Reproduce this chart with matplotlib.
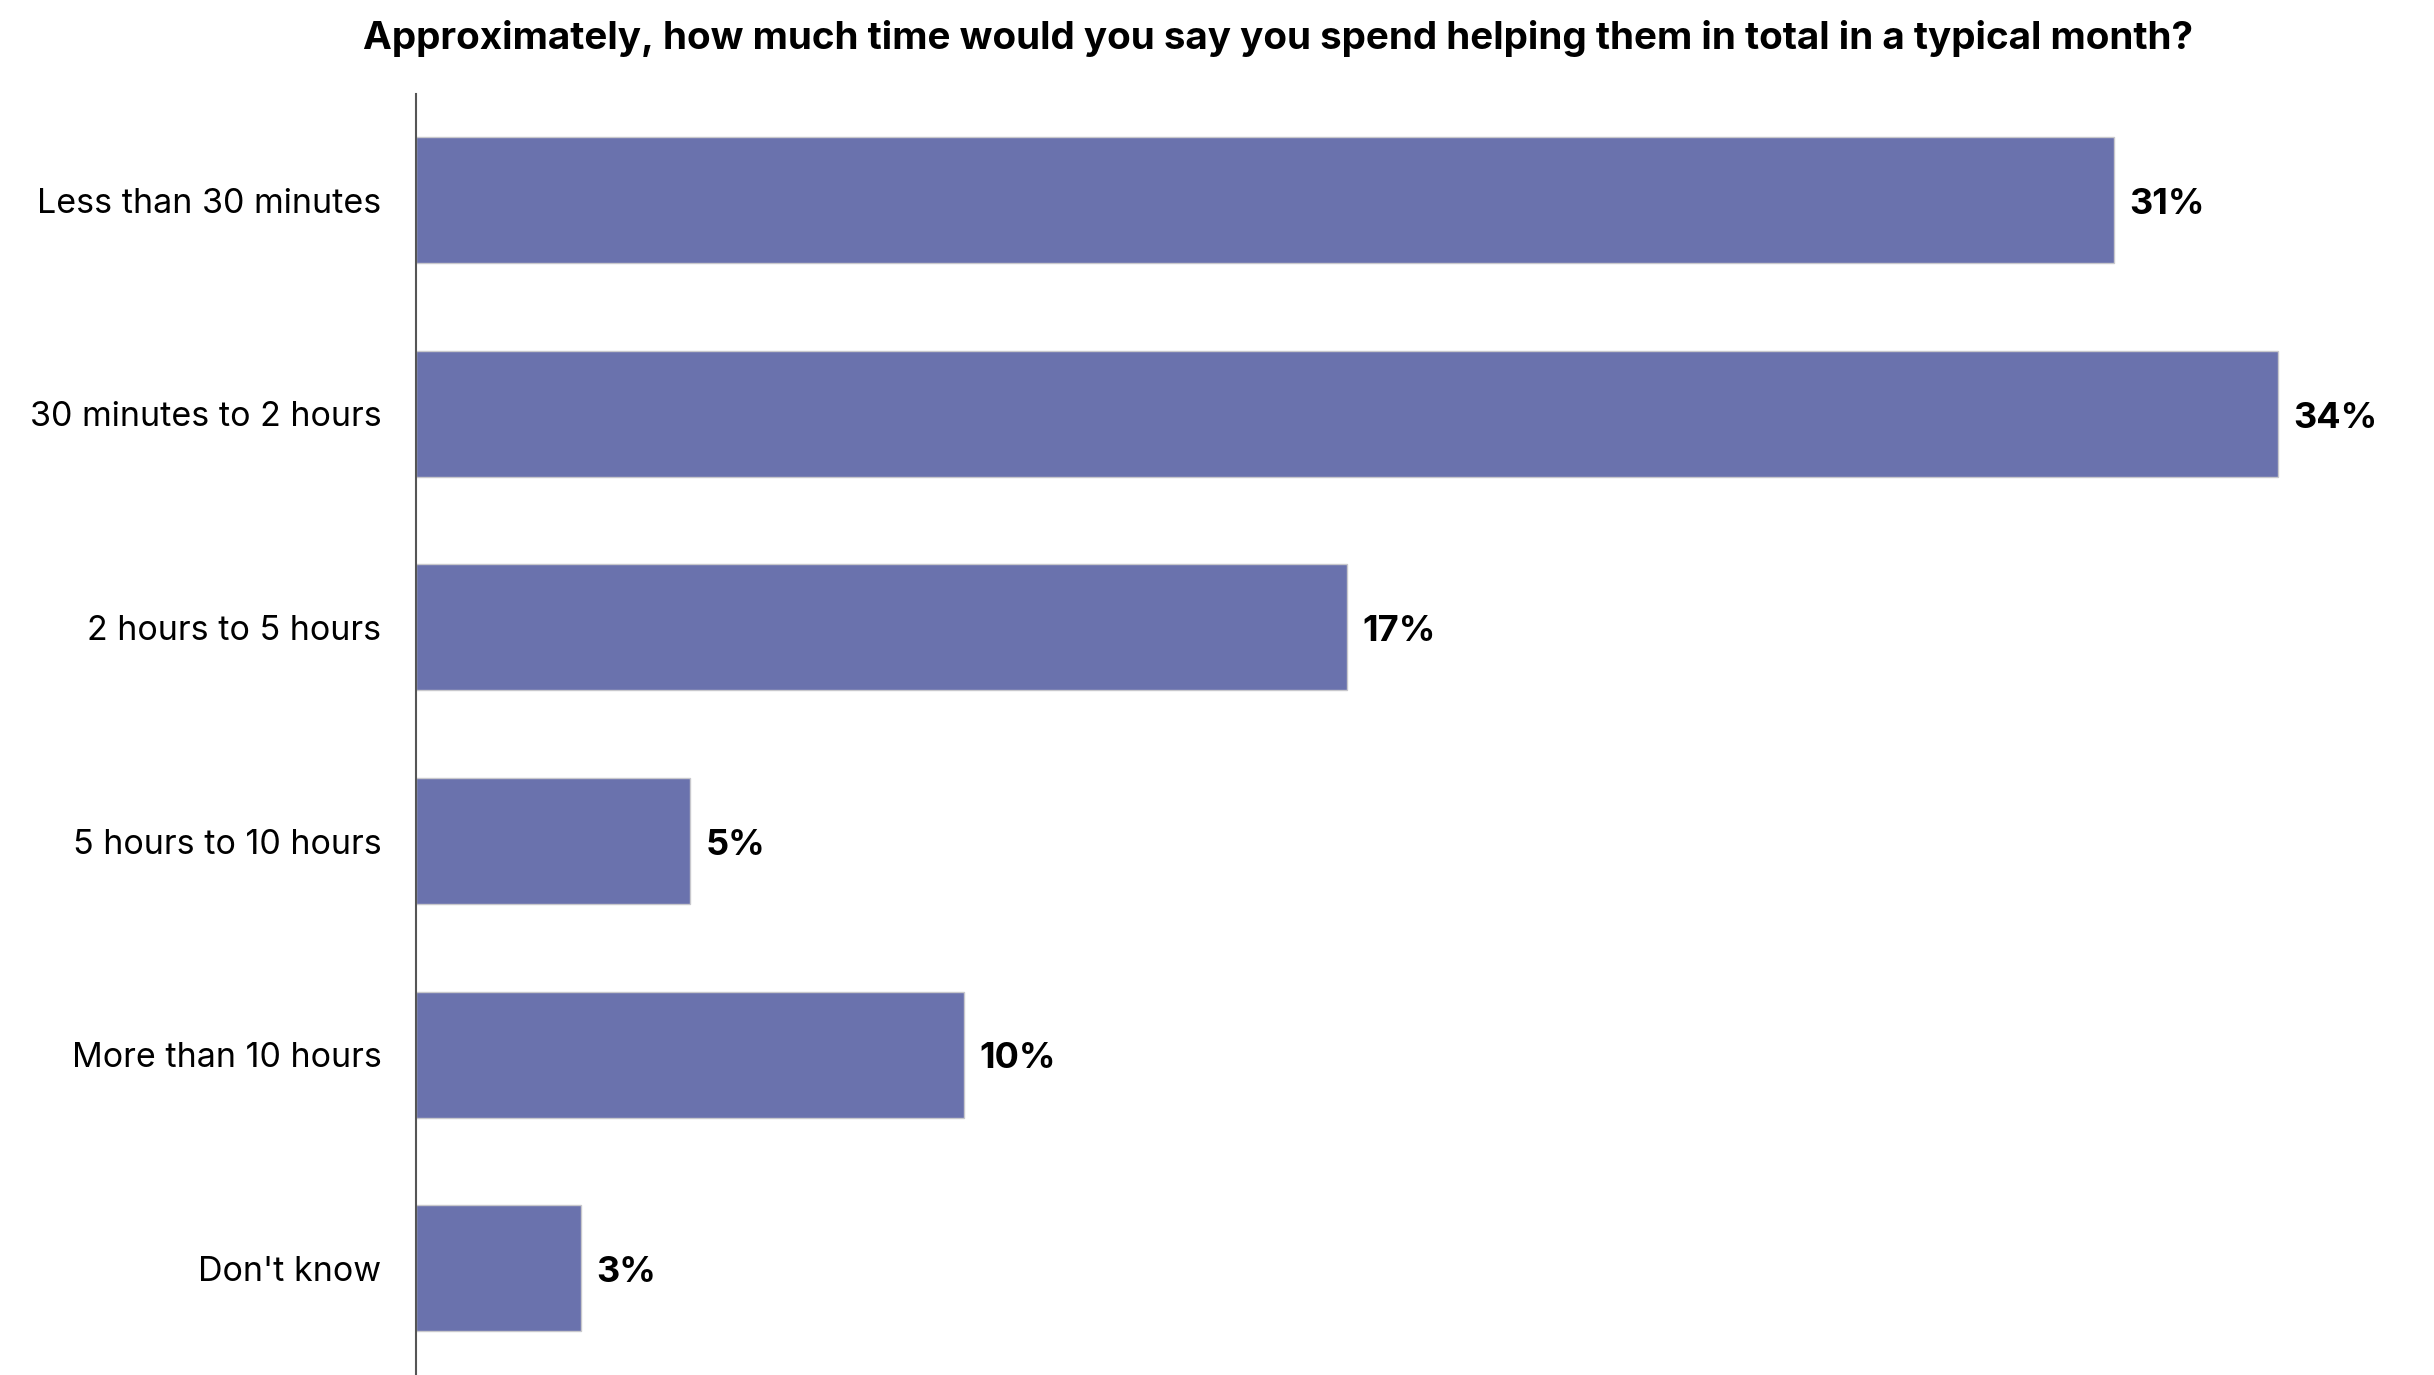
import matplotlib
matplotlib.use("Agg")
import matplotlib.pyplot as plt

plt.rcParams['font.family'] = ['Inter', 'DejaVu Sans']

title = "Approximately, how much time would you say you spend helping them in total in a typical month?"
categories = [
    "Less than 30 minutes",
    "30 minutes to 2 hours",
    "2 hours to 5 hours",
    "5 hours to 10 hours",
    "More than 10 hours",
    "Don't know",
]
values = [31, 34, 17, 5, 10, 3]

bar_color = "#6a72ad"

fig = plt.figure(figsize=(24.34, 13.75), dpi=100)
ax = fig.add_axes([0.171, 0.0, 0.819, 0.932])

pos = list(range(len(categories)))
ax.barh(pos, values, height=0.59, color=bar_color, edgecolor="#c8c8cc", linewidth=1.0)

for p, v in zip(pos, values):
    ax.text(v + 0.28, p + 0.02, f"{v}%", va="center", ha="left",
            fontsize=26, fontweight="bold", color="black")

ax.set_ylim(5.5, -0.5)
ax.set_xlim(0, 36.4)
ax.set_yticks(pos)
ax.set_yticklabels(categories, fontsize=24.5)
ax.tick_params(axis="y", length=0, pad=25)
ax.set_xticks([])

for side in ["top", "right", "bottom"]:
    ax.spines[side].set_visible(False)
ax.spines["left"].set_color("#555555")
ax.spines["left"].set_linewidth(1.5)

fig.text(0.525, 0.972, title, ha="center", va="center",
         fontsize=27.8, fontweight="bold", color="black")

fig.savefig("out.png", dpi=100, facecolor="white")
